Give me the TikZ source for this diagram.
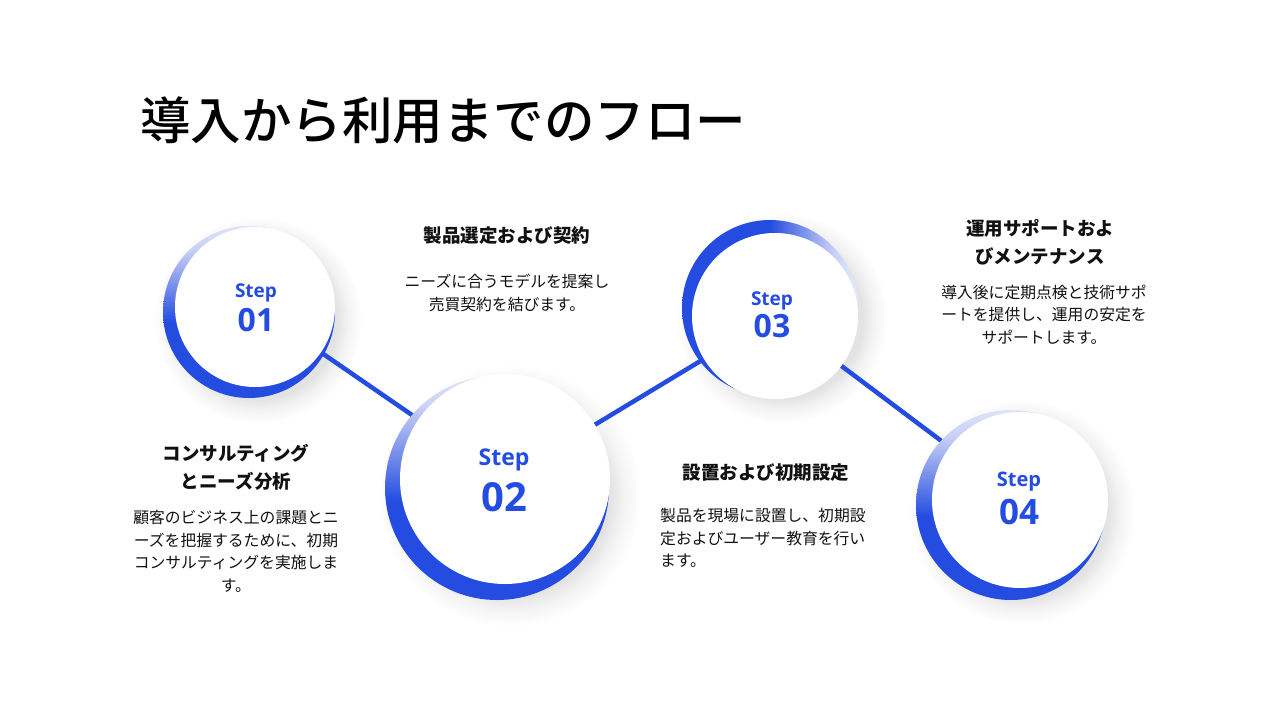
\documentclass[tikz,border=0pt]{standalone}
\usepackage{fontspec}
\setmainfont{Noto Sans CJK JP}
\newfontfamily\titlefont{Noto Sans CJK JP Medium}
\newfontfamily\latinb{Open Sans}
\definecolor{stepblue}{RGB}{36,76,224}
\definecolor{paleblue}{RGB}{200,208,246}
\definecolor{txt}{RGB}{17,17,17}
\pgfdeclareverticalshading{crescv}{100bp}{color(0bp)=(stepblue); color(25bp)=(stepblue); color(47bp)=(stepblue); color(68bp)=(paleblue); color(75bp)=(paleblue!60!white); color(100bp)=(paleblue!60!white)}
\pgfdeclarehorizontalshading{cresch}{100bp}{color(0bp)=(stepblue); color(25bp)=(stepblue); color(50bp)=(stepblue); color(68bp)=(paleblue); color(75bp)=(paleblue!40!white); color(100bp)=(paleblue!40!white)}
\pgfdeclareradialshading{softshadow}{\pgfpoint{0bp}{0bp}}{color(0bp)=(black!11); color(19bp)=(black!11); color(21.5bp)=(black!5); color(25bp)=(white); color(50bp)=(white)}
\begin{document}
\begin{tikzpicture}[x=1pt,y=-1pt,
  shadowdisc/.style={circle, inner sep=0pt, minimum size=#1, shading=softshadow},
  ringv/.style={circle, inner sep=0pt, minimum size=#1, shading=crescv},
  ringh/.style={circle, inner sep=0pt, minimum size=#1, shading=cresch},
  disc/.style={circle, inner sep=0pt, minimum size=#1, fill=white},
  steplbl/.style={inner sep=0pt, text=stepblue, font=\latinb\bfseries\fontsize{#1}{#1}\selectfont},
  link/.style={draw=stepblue, line width=4.5pt},
  head/.style={inner sep=0pt, align=center, text=txt, font=\bfseries\fontsize{18.5}{28}\selectfont},
  body/.style={inner sep=0pt, align=center, text=txt, font=\fontsize{15.8}{22.5}\selectfont},
  title/.style={inner sep=0pt, anchor=west, text=black, font=\titlefont\fontsize{50.5}{60}\selectfont}
]
\useasboundingbox[fill=white] (0,0) rectangle (1280,720);

% soft shadows
\node[shadowdisc=208] (sh1) at (258,320) {};
\node[shadowdisc=262] (sh2) at (510,496) {};
\node[shadowdisc=212] (sh3) at (782,318) {};
\node[shadowdisc=226] (sh4) at (1022,512) {};

% centres
\coordinate (c1) at (255,307);
\coordinate (c2) at (505,479);
\coordinate (c3) at (775,316);
\coordinate (c4) at (1020,500);

% connectors (behind the circles)
\draw[link] (c1) -- (c2);
\draw[link] (c2) -- (c3);
\draw[link] (c3) -- (c4);

% blue crescents
\node[ringv=172] (r1) at (249,312) {};
\node[ringv=224] (r2) at (497,488) {};
\node[ringh=176] (r3) at (770,308) {};
\node[ringv=190] (r4) at (1011,505) {};

% white discs
\node[disc=160] (s1) at (c1) {};
\node[disc=210] (s2) at (c2) {};
\node[disc=166] (s3) at (c3) {};
\node[disc=176] (s4) at (c4) {};

% step labels
\node[steplbl=19] (s1a) at (256,293) {Step};
\node[steplbl=32] (s1b) at (256,320) {01};
\node[steplbl=23] (s2a) at (504,460) {Step};
\node[steplbl=40] (s2b) at (504,497) {02};
\node[steplbl=19] (s3a) at (772,301) {Step};
\node[steplbl=32] (s3b) at (772,326) {03};
\node[steplbl=20] (s4a) at (1019,482) {Step};
\node[steplbl=35] (s4b) at (1019,512) {04};

% title
\node[title] (ttl) at (140,120) {導入から利用までのフロー};

% text blocks
\node[head] (h1) at (236,467) {コンサルティング\\とニーズ分析};
\node[body] (t1) at (236,551.5) {顧客のビジネス上の課題とニ\\ーズを把握するために、初期\\コンサルティングを実施しま\\す。};

\node[head] (h2) at (507,236) {製品選定および契約};
\node[body] (t2) at (507,293) {ニーズに合うモデルを提案し\\売買契約を結びます。};

\node[head] (h3) at (766,473) {設置および初期設定};
\node[body, align=left, anchor=west] (t3) at (660,538) {製品を現場に設置し、初期設\\定およびユーザー教育を行い\\ます。};

\node[head] (h4) at (1040,242.5) {運用サポートおよ\\びメンテナンス};
\node[body] (t4) at (1044,314.5) {導入後に定期点検と技術サポ\\ートを提供し、運用の安定を\\サポートします。};
\end{tikzpicture}
\end{document}
